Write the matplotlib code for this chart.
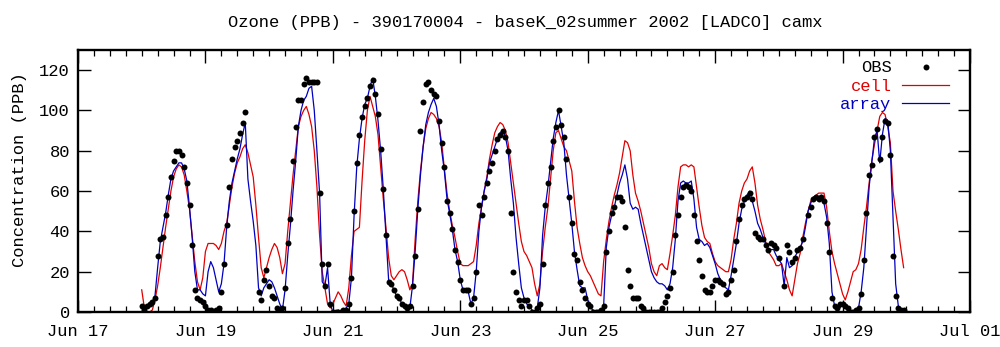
#! /usr/bin/env python
import numpy as np
import matplotlib
matplotlib.use("Agg")
import matplotlib.pyplot as plt
import matplotlib.dates as mdates

nan = np.nan

# hourly values, Jun 18 00:00 .. Jun 29 23:00
start = np.datetime64('2002-06-18T00')

obs = [
    3, 1, 3, 4, 5, 7, 28, 36, 37, 48, 57, 67, 75, 80, 80, 78, 72, 64, 53, 33, 11, 7, 6, 5,
    3, 1, 1, 0, 1, 2, 10, 24, 43, 62, 76, 82, 85, 89, 94, 99, nan, nan, nan, nan, 10, 6, 16, 21,
    13, 8, 7, 2, 1, 2, 12, 34, 46, 75, 92, 105, 105, 113, 116, 114, 114, 114, 114, 59, 24, 13, 24, 4,
    0, 0, 0, 0, 1, 1, 4, 17, 50, 74, 88, 97, 102, 106, 112, 115, 108, 98, 81, 61, 38, 15, 14, 11,
    8, 7, 4, 3, 2, 3, 13, 28, 51, 90, 104, 113, 114, 110, 108, 107, 95, 84, 72, 55, 49, 41, 31, 25,
    16, 11, 11, 11, 4, 7, 20, 53, 48, 57, 64, 70, 74, 80, 86, 88, 90, 87, 80, 49, 20, 10, 6, 3,
    6, 6, 3, 0, 0, 2, 4, 24, 53, 64, 72, 85, 92, 100, 93, 87, 76, 57, 44, 29, 26, 15, 11, 7,
    4, 3, 0, 0, 0, 1, 3, 30, 40, 49, 52, 57, 57, 55, 42, 21, 13, 7, 7, 7, 3, 2, 0, 0,
    0, 0, 0, 0, 2, 5, 8, 12, 20, 38, 48, 57, 62, 63, 62, 60, 48, 35, 26, 18, 11, 10, 10, 13,
    16, 16, 15, 14, 9, 10, 16, 21, 35, 46, 53, 56, 57, 59, 56, 39, 37, 36, 36, 33, 31, 34, 33, 32,
    27, nan, 13, 33, 30, 25, 27, 31, 32, 36, nan, 48, 52, 56, 57, 56, 57, 55, 44, 30, 7, 3, 2, 4,
    4, 3, 2, 0, 0, 1, 2, 9, 26, 49, 68, 73, 87, 91, 76, 87, 95, 94, 78, 28, 8, 2, 1, 1,
]

cell = [
    11, 2, 0, 0, 1, 6, 13, 22, 32, 42, 51, 60, 67, 71, 73, 72, 68, 60, 51, 38, 25, 15, 11, 17,
    30, 34, 34, 34, 33, 31, 34, 40, 44, 53, 62, 69, 74, 77, 81, 83, 79, 73, 67, 53, 37, 22, 17, 22,
    27, 31, 34, 32, 27, 19, 24, 40, 54, 68, 80, 92, 97, 100, 102, 98, 92, 80, 62, 38, 20, 12, 4, 2,
    4, 7, 10, 8, 5, 3, 12, 28, 40, 41, 42, 65, 85, 100, 107, 102, 97, 88, 72, 56, 42, 27, 18, 16,
    18, 20, 21, 20, 16, 11, 14, 36, 55, 70, 82, 91, 96, 99, 98, 96, 92, 84, 71, 59, 50, 43, 37, 30,
    24, 23, 23, 23, 24, 25, 33, 44, 52, 60, 67, 76, 83, 89, 92, 94, 93, 90, 84, 74, 64, 54, 44, 35,
    30, 28, 25, 22, 14, 8, 14, 30, 42, 52, 66, 80, 89, 90, 86, 82, 80, 75, 70, 55, 42, 34, 27, 23,
    20, 18, 15, 12, 9, 8, 25, 36, 45, 52, 58, 63, 69, 77, 85, 84, 80, 68, 59, 55, 50, 44, 38, 32,
    24, 20, 18, 23, 24, 22, 21, 29, 38, 48, 62, 72, 73, 73, 72, 73, 72, 62, 52, 43, 37, 35, 34, 29,
    25, 23, 22, 21, 20, 20, 26, 36, 44, 54, 60, 64, 66, 70, 72, 64, 53, 46, 41, 35, 30, 28, 26, 23,
    23, 24, 20, 16, 11, 8, 16, 24, 29, 37, 44, 50, 55, 57, 58, 59, 59, 59, 52, 40, 30, 24, 19, 14,
    9, 6, 10, 15, 20, 21, 24, 31, 42, 52, 64, 75, 83, 90, 97, 99, 98, 92, 84, 60, 50, 41, 31, 22,
]

array = [
    0, 0, 2, 4, 5, 8, 22, 35, 42, 49, 58, 66, 70, 72, 74, 74, 71, 65, 52, 37, 20, 11, 11, 9,
    8, 20, 25, 22, 16, 10, 14, 24, 42, 55, 64, 70, 76, 81, 88, 94, 66, 55, 45, 33, 12, 8, 12, 14,
    16, 15, 12, 8, 4, 1, 11, 28, 43, 60, 75, 92, 100, 105, 107, 111, 112, 100, 80, 59, 15, 13, 22, 4,
    0, 0, 1, 0, 1, 2, 4, 17, 48, 72, 86, 96, 103, 106, 112, 116, 107, 95, 80, 61, 38, 16, 14, 11,
    8, 7, 4, 3, 2, 2, 13, 30, 51, 68, 82, 93, 99, 103, 106, 102, 93, 80, 70, 56, 49, 41, 31, 25,
    16, 11, 11, 10, 4, 7, 20, 40, 52, 60, 66, 74, 78, 82, 86, 89, 90, 87, 80, 66, 54, 37, 24, 12,
    7, 4, 3, 1, 0, 2, 12, 38, 52, 62, 74, 86, 94, 100, 92, 84, 68, 56, 44, 30, 21, 13, 12, 12,
    6, 2, 1, 0, 0, 1, 3, 32, 42, 48, 52, 58, 64, 68, 73, 66, 54, 51, 52, 51, 44, 38, 32, 26,
    20, 17, 15, 14, 14, 13, 11, 14, 22, 36, 55, 64, 65, 64, 64, 65, 56, 42, 36, 35, 33, 34, 32, 28,
    24, 19, 16, 13, 12, 11, 18, 26, 34, 44, 51, 55, 58, 60, 55, 50, 44, 41, 37, 34, 31, 31, 31, 28,
    26, 24, 13, 27, 22, 23, 27, 30, 32, 35, 42, 50, 54, 57, 57, 57, 58, 54, 47, 34, 10, 3, 2, 2,
    4, 2, 1, 0, 0, 0, 2, 10, 22, 42, 62, 74, 86, 90, 74, 88, 96, 95, 80, 47, 14, 3, 1, 0,
]

times = start + np.arange(len(obs)).astype('timedelta64[h]')

major_days = np.arange('2002-06-17', '2002-07-02', 2, dtype='datetime64[D]')
yticks = [0, 20, 40, 60, 80, 100, 120]

title = "Ozone (PPB) - 390170004 - baseK_02summer 2002 [LADCO] camx"
ylabel = "Concentration (PPB)"

red = '#e00000'
blue = '#0000c0'

plt.rcParams['font.family'] = ['Liberation Mono', 'DejaVu Sans Mono']
fs = 12.3

fig = plt.figure(figsize=(10, 3.47), dpi=100)
ax = fig.add_axes([0.078, 35 / 347, 0.892, 262 / 347])

l_cell, = ax.plot(times, cell, color=red, lw=0.9, label='cell', zorder=2)
l_arr, = ax.plot(times, array, color=blue, lw=0.9, label='array', zorder=3)
l_obs, = ax.plot(times, obs, 'o', color='black', ms=4.3, mew=0, label='OBS', zorder=4)

ax.set_xlim(np.datetime64('2002-06-17T00'), np.datetime64('2002-07-01T00'))
ax.set_ylim(0, 130)
ax.set_xticks(major_days.astype('datetime64[h]'))
ax.xaxis.set_major_formatter(mdates.DateFormatter('%b %d'))
ax.xaxis.set_minor_locator(mdates.HourLocator(byhour=[0, 6, 12, 18]))
ax.set_yticks(yticks)

ax.tick_params(axis='both', which='both', direction='in', top=True, right=True,
               labelsize=fs, color='black')
ax.tick_params(axis='x', which='major', length=9, width=1.0, pad=8.5)
ax.tick_params(axis='x', which='minor', length=4.5, width=0.9)
ax.tick_params(axis='y', which='major', length=9, width=1.0, pad=5.8)
for s in ax.spines.values():
    s.set_linewidth(1.7)

fig.text(0.525, 1 - 26.5 / 347, title, ha='center', va='baseline', fontsize=fs)
fig.text(0.020, 1 - 170 / 347, ylabel, ha='center', va='center',
         rotation=90, fontsize=fs)

leg = ax.legend(handles=[l_obs, l_cell, l_arr], loc='upper right',
                bbox_to_anchor=(0.9493, 1 - 60.5 / 347), bbox_transform=fig.transFigure,
                frameon=False, markerfirst=False, handlelength=2.74, handletextpad=0.65,
                labelspacing=0.2, borderpad=0, borderaxespad=0, fontsize=fs)
for t, c in zip(leg.get_texts(), ['black', red, blue]):
    t.set_color(c)

fig.savefig('out.png', dpi=100)
